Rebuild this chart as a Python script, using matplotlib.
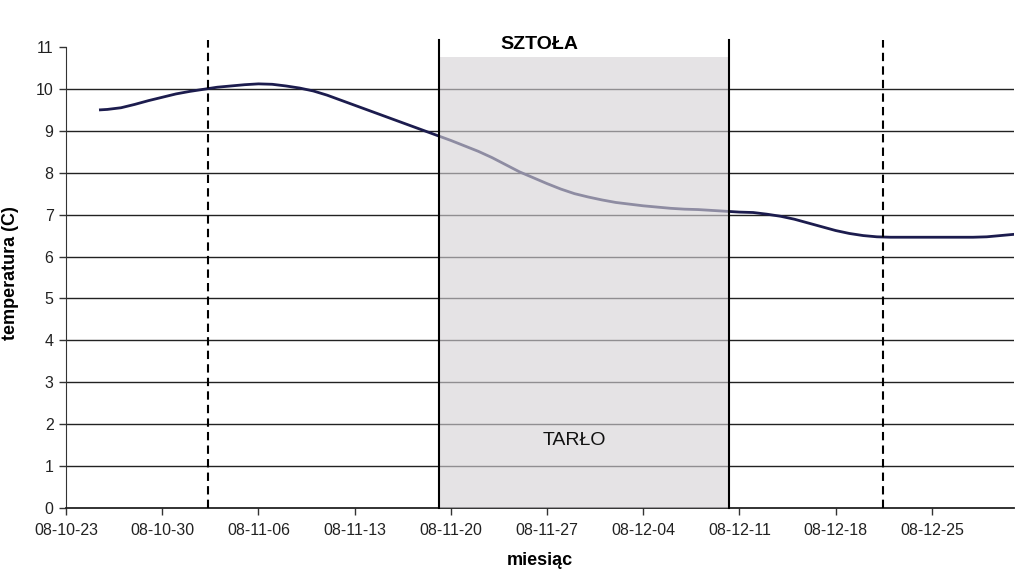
import matplotlib
matplotlib.use("Agg")
import matplotlib.pyplot as plt
import matplotlib.dates as mdates
import pandas as pd

plt.rcParams['font.family'] = ['Liberation Sans', 'DejaVu Sans']

# ---- data ----
# first reading at noon on Oct 25, then one reading per day Oct 26 .. Dec 31
dates = pd.DatetimeIndex([pd.Timestamp("2008-10-25 12:00")]).append(
    pd.date_range("2008-10-26", "2008-12-31", freq="D"))
temps = [
    9.50,                                                       # Oct 25.5
    9.51, 9.55, 9.63, 9.72, 9.80, 9.88,                         # Oct 26-31
    9.94, 9.99, 10.04, 10.07, 10.10, 10.12, 10.11, 10.07,       # Nov 1-8
    10.02, 9.95, 9.85, 9.73, 9.61, 9.49, 9.37, 9.25,            # Nov 9-16
    9.13, 9.01, 8.89, 8.77, 8.64, 8.51, 8.36, 8.19,             # Nov 17-24
    8.02, 7.88, 7.74, 7.61, 7.50, 7.42,                         # Nov 25-30
    7.35, 7.29, 7.25, 7.21, 7.18, 7.15, 7.13, 7.12,             # Dec 1-8
    7.10, 7.08, 7.06, 7.05, 7.01, 6.96, 6.89, 6.80,             # Dec 9-16
    6.71, 6.62, 6.55, 6.50, 6.47, 6.46, 6.46, 6.46,             # Dec 17-24
    6.46, 6.46, 6.46, 6.46, 6.47, 6.50, 6.53,                   # Dec 25-31
]
tick_dates = pd.date_range("2008-10-23", "2008-12-25", freq="7D")
tick_labels = [d.strftime("%y-%m-%d") for d in tick_dates]
dashed_lines = pd.to_datetime(["2008-11-02 08:00", "2008-12-21 11:00"], format="%Y-%m-%d %H:%M")
spawn_period = pd.to_datetime(["2008-11-19 04:00", "2008-12-10 06:00"], format="%Y-%m-%d %H:%M")
x_range = pd.to_datetime(["2008-10-23", "2008-12-31"], format="%Y-%m-%d")
y_ticks = list(range(0, 12))
gridlines = list(range(1, 11))

# ---- figure ----
fig = plt.figure(figsize=(10.24, 5.72), dpi=100)
ax = fig.add_axes([0.0645, 0.112, 0.926, 0.8205])

ax.set_xlim(x_range[0], x_range[1])
ax.set_ylim(0, 11.2)

for g in gridlines:
    ax.axhline(g, color="#222222", lw=1.0, zorder=1)

ax.plot(dates, temps, color="#1c1c4e", lw=2.0, zorder=2, solid_joinstyle="round")

# shaded spawning period (drawn over line, semi-transparent)
ax.fill_between(spawn_period, 0, 10.75, color="#d5d2d6", alpha=0.62, lw=0, zorder=3)

for d in spawn_period:
    ax.plot([d, d], [0, 11.17], color="black", lw=1.5, zorder=4, clip_on=False)
for d in dashed_lines:
    ax.plot([d, d], [0, 11.17], color="black", lw=1.5, ls=(0, (4, 2.5)),
            zorder=4, clip_on=False)

ax.set_xticks(tick_dates)
ax.set_xticklabels(tick_labels)
ax.set_yticks(y_ticks)
ax.tick_params(axis="both", direction="out", length=5, width=1, color="#333333",
               labelsize=11.5, labelcolor="#222222")
ax.tick_params(axis="x", pad=6)
ax.tick_params(axis="y", pad=4)

for s in ["top", "right"]:
    ax.spines[s].set_visible(False)
ax.spines["left"].set_bounds(0, 11)
ax.spines["left"].set_color("#333333")
ax.spines["bottom"].set_color("#222222")
ax.spines["bottom"].set_linewidth(1.3)

ax.set_xlabel("miesiąc", fontsize=13, fontweight="bold", labelpad=10)
ax.set_ylabel("temperatura (C)", fontsize=13, fontweight="bold", labelpad=12)

mid_top = mdates.date2num(pd.Timestamp("2008-11-26 10:00"))
ax.text(mid_top, 11.07, "SZTOŁA", fontsize=14, fontweight="bold",
        ha="center", va="center", zorder=5)
mid_low = mdates.date2num(pd.Timestamp("2008-11-29 00:00"))
ax.text(mid_low, 1.62, "TARŁO", fontsize=14, ha="center", va="center",
        color="#111111", zorder=5)

fig.savefig("out.png", dpi=100)
